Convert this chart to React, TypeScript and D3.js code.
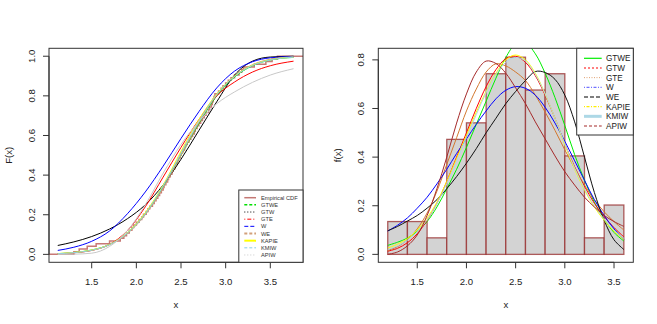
import React from "react";
import * as d3 from "d3";

const W = 657;
const H = 324;

// ---------- Left panel: CDFs ----------
const cdfX = [1.12, 1.3, 1.5, 1.7, 1.9, 2.1, 2.3, 2.5, 2.7, 2.9, 3.1, 3.3, 3.5, 3.76];
const cdfGTWE = [0.004, 0.009, 0.022, 0.05, 0.108, 0.205, 0.34, 0.5, 0.66, 0.8, 0.895, 0.952, 0.981, 0.994];
const cdfGTW = [0.045, 0.063, 0.09, 0.128, 0.18, 0.25, 0.35, 0.48, 0.625, 0.77, 0.905, 0.975, 0.996, 1.0];
const cdfGTE = [0.003, 0.008, 0.02, 0.05, 0.12, 0.24, 0.39, 0.54, 0.68, 0.8, 0.87, 0.92, 0.952, 0.975];
const cdfW = [0.02, 0.036, 0.066, 0.118, 0.205, 0.315, 0.445, 0.585, 0.72, 0.84, 0.925, 0.972, 0.992, 0.999];
const cdfWE = [0.003, 0.008, 0.02, 0.048, 0.105, 0.2, 0.335, 0.5, 0.665, 0.805, 0.9, 0.957, 0.985, 0.997];
const cdfKAPIE = [0.004, 0.01, 0.022, 0.05, 0.11, 0.21, 0.35, 0.52, 0.68, 0.81, 0.9, 0.955, 0.982, 0.995];
const cdfKMIW = [0.003, 0.009, 0.021, 0.049, 0.108, 0.205, 0.345, 0.51, 0.672, 0.806, 0.898, 0.953, 0.981, 0.995];
const cdfAPIW = [0.0, 0.001, 0.006, 0.04, 0.12, 0.25, 0.41, 0.555, 0.67, 0.76, 0.82, 0.868, 0.905, 0.937];

const sample = [
  1.3, 1.36, 1.45, 1.55, 1.7,
  1.82, 1.86, 1.89, 1.92, 1.95, 1.97, 2.0,
  2.03, 2.06, 2.08, 2.11, 2.13, 2.15, 2.18, 2.2,
  2.22, 2.24, 2.26, 2.28, 2.3, 2.31, 2.33, 2.35, 2.36, 2.38, 2.4,
  2.41, 2.43, 2.44, 2.46, 2.47, 2.49, 2.5, 2.52, 2.54, 2.55, 2.57, 2.59,
  2.61, 2.63, 2.65, 2.66, 2.68, 2.7, 2.72, 2.74, 2.76, 2.78,
  2.81, 2.82, 2.84, 2.85, 2.86, 2.87, 2.88, 2.92, 2.95, 2.97, 3.0,
  3.03, 3.06, 3.1, 3.15, 3.18, 3.2,
  3.32,
  3.45, 3.52, 3.58,
];

const leftSeries = [
  { name: "GTWE", values: cdfGTWE, color: "#00E000", dash: "3,2", lw: 1.5 },
  { name: "GTW", values: cdfGTW, color: "#000000", dash: "1,2", lw: 1 },
  { name: "GTE", values: cdfGTE, color: "#FF0000", dash: "1,2,4,2", lw: 1 },
  { name: "W", values: cdfW, color: "#0000FF", dash: "4,2", lw: 1 },
  { name: "WE", values: cdfWE, color: "#D2A07A", dash: "3,2", lw: 2 },
  { name: "KAPIE", values: cdfKAPIE, color: "#FFFF00", dash: "", lw: 2 },
  { name: "KMIW", values: cdfKMIW, color: "#87CEEB", dash: "3,2", lw: 1 },
  { name: "APIW", values: cdfAPIW, color: "#C8C8C8", dash: "1,2", lw: 1 },
];

// ---------- Right panel: densities ----------
const binEdges = [1.2, 1.4, 1.6, 1.8, 2.0, 2.2, 2.4, 2.6, 2.8, 3.0, 3.2, 3.4, 3.6];
const binDensity = [0.135, 0.135, 0.068, 0.473, 0.541, 0.743, 0.811, 0.676, 0.743, 0.405, 0.068, 0.203];

const pdfX = [1.2, 1.3, 1.4, 1.5, 1.6, 1.7, 1.8, 1.9, 2.0, 2.1, 2.2, 2.3, 2.4, 2.5, 2.6, 2.7, 2.8, 2.9, 3.0, 3.1, 3.2, 3.3, 3.4, 3.5, 3.6];
const pdfGTWE = [0.037, 0.05, 0.067, 0.095, 0.135, 0.195, 0.27, 0.35, 0.44, 0.535, 0.63, 0.725, 0.81, 0.865, 0.87, 0.825, 0.745, 0.645, 0.53, 0.41, 0.305, 0.215, 0.145, 0.09, 0.055];
const pdfGTW = [0.013, 0.025, 0.048, 0.085, 0.14, 0.21, 0.3, 0.4, 0.5, 0.6, 0.69, 0.76, 0.805, 0.815, 0.79, 0.735, 0.655, 0.56, 0.455, 0.36, 0.28, 0.21, 0.155, 0.11, 0.072];
const pdfGTE = [0.016, 0.032, 0.06, 0.105, 0.17, 0.26, 0.37, 0.48, 0.59, 0.68, 0.75, 0.784, 0.775, 0.75, 0.715, 0.655, 0.585, 0.51, 0.43, 0.355, 0.285, 0.225, 0.175, 0.135, 0.1];
const pdfW = [0.096, 0.12, 0.15, 0.19, 0.235, 0.29, 0.35, 0.415, 0.475, 0.535, 0.59, 0.64, 0.675, 0.69, 0.683, 0.655, 0.605, 0.54, 0.465, 0.385, 0.305, 0.225, 0.16, 0.105, 0.062];
const pdfWE = [0.097, 0.115, 0.137, 0.16, 0.19, 0.225, 0.27, 0.32, 0.375, 0.435, 0.5, 0.56, 0.62, 0.67, 0.715, 0.752, 0.748, 0.72, 0.655, 0.545, 0.4, 0.255, 0.14, 0.06, 0.02];
const pdfKAPIE = [0.026, 0.042, 0.065, 0.1, 0.15, 0.215, 0.3, 0.395, 0.49, 0.585, 0.67, 0.745, 0.8, 0.82, 0.8, 0.745, 0.66, 0.56, 0.45, 0.35, 0.265, 0.195, 0.14, 0.095, 0.062];
const pdfKMIW = [0.02, 0.035, 0.058, 0.093, 0.142, 0.208, 0.29, 0.385, 0.48, 0.575, 0.665, 0.74, 0.79, 0.81, 0.795, 0.74, 0.66, 0.56, 0.455, 0.355, 0.27, 0.2, 0.145, 0.1, 0.066];
const pdfAPIW = [0.0, 0.01, 0.035, 0.08, 0.16, 0.27, 0.4, 0.54, 0.66, 0.75, 0.795, 0.785, 0.745, 0.685, 0.62, 0.545, 0.475, 0.405, 0.34, 0.285, 0.235, 0.195, 0.16, 0.135, 0.115];

const rightSeries = [
  { name: "GTWE", values: pdfGTWE, color: "#00EE00", legColor: "#00EE00", dash: "", lw: 1.2 },
  { name: "GTW", values: pdfGTW, color: "#FF0000", legColor: "#FF8080", dash: "2,2", lw: 2 },
  { name: "GTE", values: pdfGTE, color: "#D2782F", legColor: "#E0A070", dash: "1,1.5", lw: 1 },
  { name: "W", values: pdfW, color: "#0000FF", legColor: "#5050FF", dash: "1,1.5,3,1.5", lw: 1 },
  { name: "WE", values: pdfWE, color: "#111111", legColor: "#555555", dash: "4,2", lw: 1.5 },
  { name: "KAPIE", values: pdfKAPIE, color: "#FFFF00", legColor: "#FFEE00", dash: "1,1.5,3,1.5", lw: 1.2 },
  { name: "KMIW", values: pdfKMIW, color: "#ADD8E6", legColor: "#ADD8E6", dash: "", lw: 3 },
  { name: "APIW", values: pdfAPIW, color: "#A52A2A", legColor: "#A52A2A", dash: "3,2", lw: 1.2 },
];

const xTicks = [1.5, 2.0, 2.5, 3.0, 3.5];
const leftYTicks = [0, 0.2, 0.4, 0.6, 0.8, 1.0];
const rightYTicks = [0, 0.2, 0.4, 0.6, 0.8];

const FONT = "'Liberation Sans', Arial, Helvetica, sans-serif";
const AXIS_COLOR = "#333";

function Axes({ xs, ys, xt, yt, x0, y0 }: any) {
  const [xa, xb] = [xs(xt[0]), xs(xt[xt.length - 1])];
  const [ya, yb] = [ys(yt[0]), ys(yt[yt.length - 1])];
  return (
    <g fontFamily={FONT} fontSize={9.6} fill="#222">
      <line x1={xa} x2={xb} y1={y0} y2={y0} stroke={AXIS_COLOR} />
      {xt.map((t: number) => (
        <g key={"x" + t}>
          <line x1={xs(t)} x2={xs(t)} y1={y0} y2={y0 + 6} stroke={AXIS_COLOR} />
          <text x={xs(t)} y={285} textAnchor="middle">{t.toFixed(1)}</text>
        </g>
      ))}
      <line x1={x0} x2={x0} y1={ya} y2={yb} stroke={AXIS_COLOR} />
      {yt.map((t: number) => (
        <g key={"y" + t}>
          <line x1={x0} x2={x0 - 6} y1={ys(t)} y2={ys(t)} stroke={AXIS_COLOR} />
          <text transform={`translate(${x0 - 14},${ys(t)}) rotate(-90)`} textAnchor="middle">{t.toFixed(1)}</text>
        </g>
      ))}
    </g>
  );
}

export default function App() {
  // Left panel scales
  const L = { left: 49, right: 303, top: 48.3, bottom: 262.3 };
  const lx = d3.scaleLinear().domain([1.022, 3.866]).range([L.left, L.right]);
  const ly = d3.scaleLinear().domain([-0.04, 1.04]).range([L.bottom, L.top]);

  // Right panel scales
  const R = { left: 378.3, right: 633.3, top: 48.3, bottom: 262.3 };
  const rx = d3.scaleLinear().domain([1.104, 3.696]).range([R.left, R.right]);
  const ry = d3.scaleLinear().domain([-0.0326, 0.8476]).range([R.bottom, R.top]);

  const cdfLine = d3
    .line<[number, number]>()
    .x((d) => lx(d[0]))
    .y((d) => ly(d[1]))
    .curve(d3.curveMonotoneX);

  const pdfLine = d3
    .line<[number, number]>()
    .x((d) => rx(d[0]))
    .y((d) => ry(d[1]))
    .curve(d3.curveCatmullRom.alpha(0.5));

  // ECDF step path
  const n = sample.length;
  const uniq = Array.from(new Set(sample)).sort((a, b) => a - b);
  const ecdfPts: [number, number][] = [[lx.domain()[0], 0]];
  uniq.forEach((v) => {
    const c = sample.filter((s) => s <= v).length;
    ecdfPts.push([v, c / n]);
  });
  ecdfPts.push([lx.domain()[1], 1]);
  const ecdfPath = d3
    .line<[number, number]>()
    .x((d) => lx(d[0]))
    .y((d) => ly(d[1]))
    .curve(d3.curveStepAfter)(ecdfPts);

  const ecdfColor = "rgba(176,64,60,0.7)";
  const barStroke = "rgba(150,40,40,0.75)";

  const leftLegend = [
    { name: "Empirical CDF", color: "#C47874", dash: "", lw: 1.5 },
    ...leftSeries.map((s) => ({ name: s.name, color: s.color, dash: s.dash, lw: s.lw })),
  ];

  return (
    <svg width={W} height={H} viewBox={`0 0 ${W} ${H}`} style={{ display: "block", background: "#fff", position: "absolute", left: 0, top: 0 }}>
      <defs>
        <clipPath id="clipL">
          <rect x={L.left} y={L.top} width={L.right - L.left} height={L.bottom - L.top} />
        </clipPath>
        <clipPath id="clipR">
          <rect x={R.left} y={R.top} width={R.right - R.left} height={R.bottom - R.top} />
        </clipPath>
      </defs>

      {/* ---------- Left panel ---------- */}
      <g clipPath="url(#clipL)">
        <path d={ecdfPath || ""} fill="none" stroke={ecdfColor} strokeWidth={1.5} />
        {leftSeries.map((s) => (
          <path
            key={s.name}
            d={cdfLine(cdfX.map((x, i) => [x, s.values[i]] as [number, number])) || ""}
            fill="none"
            stroke={s.color}
            strokeWidth={1}
          />
        ))}
      </g>
      <rect x={L.left} y={L.top} width={L.right - L.left} height={L.bottom - L.top} fill="none" stroke={AXIS_COLOR} />
      <Axes xs={lx} ys={ly} xt={xTicks} yt={leftYTicks} x0={L.left} y0={L.bottom} />
      <text x={(L.left + L.right) / 2} y={308} textAnchor="middle" fontFamily={FONT} fontSize={9.6} fill="#222">x</text>
      <text transform={`translate(11.5,${(L.top + L.bottom) / 2}) rotate(-90)`} textAnchor="middle" fontFamily={FONT} fontSize={9.6} fill="#222">F(x)</text>

      {/* left legend */}
      <g>
        <rect x={238.8} y={190} width={L.right - 238.8} height={L.bottom - 190} fill="#fff" stroke={AXIS_COLOR} />
        {leftLegend.map((it, i) => {
          const y = 197.7 + i * 7.16;
          return (
            <g key={it.name}>
              <line x1={244.3} x2={256} y1={y} y2={y} stroke={it.color} strokeWidth={it.lw} strokeDasharray={it.dash} />
              <text x={261} y={y + 2} fontFamily={FONT} fontSize={5.7} fill="#333">{it.name}</text>
            </g>
          );
        })}
      </g>

      {/* ---------- Right panel ---------- */}
      <g clipPath="url(#clipR)">
        {binDensity.map((d, i) => (
          <rect
            key={i}
            x={rx(binEdges[i])}
            y={ry(d)}
            width={rx(binEdges[i + 1]) - rx(binEdges[i])}
            height={ry(0) - ry(d)}
            fill="#D3D3D3"
            stroke={barStroke}
            strokeWidth={1.3}
          />
        ))}
        {rightSeries.map((s) => (
          <path
            key={s.name}
            d={pdfLine(pdfX.map((x, i) => [x, s.values[i]] as [number, number])) || ""}
            fill="none"
            stroke={s.color}
            strokeWidth={1}
          />
        ))}
      </g>
      <rect x={R.left} y={R.top} width={R.right - R.left} height={R.bottom - R.top} fill="none" stroke={AXIS_COLOR} />
      <Axes xs={rx} ys={ry} xt={xTicks} yt={rightYTicks} x0={R.left} y0={R.bottom} />
      <text x={(R.left + R.right) / 2} y={308} textAnchor="middle" fontFamily={FONT} fontSize={9.6} fill="#222">x</text>
      <text transform={`translate(340.5,${(R.top + R.bottom) / 2}) rotate(-90)`} textAnchor="middle" fontFamily={FONT} fontSize={9.6} fill="#222">f(x)</text>

      {/* right legend */}
      <g>
        <rect x={576.7} y={R.top} width={R.right - 576.7} height={135 - R.top} fill="#fff" stroke={AXIS_COLOR} />
        {rightSeries.map((s, i) => {
          const y = 58.3 + i * 9.67;
          return (
            <g key={s.name}>
              <line x1={584} x2={601.7} y1={y} y2={y} stroke={s.legColor} strokeWidth={s.lw} strokeDasharray={s.dash} />
              <text x={606} y={y + 3} fontFamily={FONT} fontSize={8.2} fill="#222">{s.name}</text>
            </g>
          );
        })}
      </g>
    </svg>
  );
}
